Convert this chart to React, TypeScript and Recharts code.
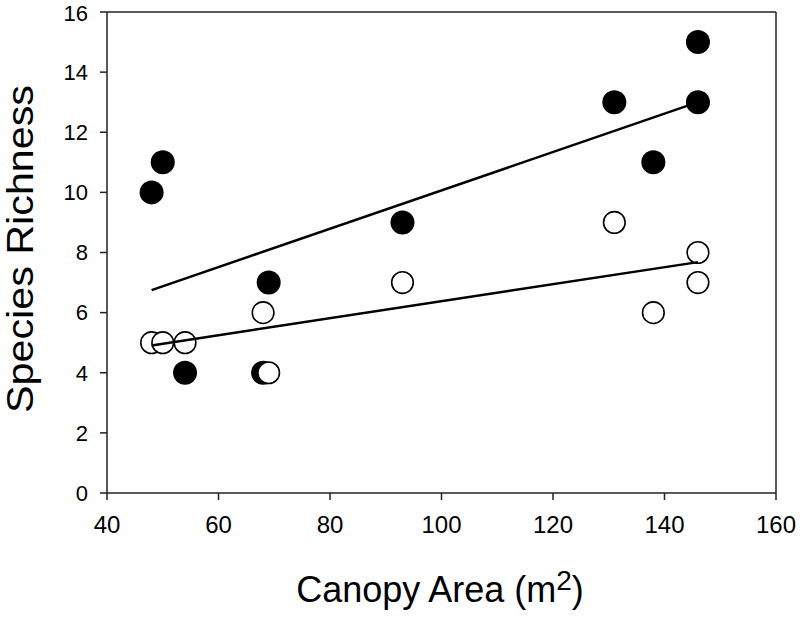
import React from "react";
import {
  ComposedChart,
  Scatter,
  XAxis,
  YAxis,
  ReferenceLine,
} from "recharts";

// canopy area (m2) and species richness
const filledX = [48, 50, 54, 68, 69, 93, 131, 138, 146, 146];
const filledY = [10, 11, 4, 4, 7, 9, 13, 11, 13, 15];
const openX = [48, 50, 54, 68, 69, 93, 131, 138, 146, 146];
const openY = [5, 5, 5, 6, 4, 7, 9, 6, 8, 7];

// regression line ends
const filledFitX = [48, 146];
const filledFitY = [6.75, 13.0];
const openFitX = [48, 146];
const openFitY = [4.91, 7.68];

const xTicks = [40, 60, 80, 100, 120, 140, 160];
const yTicks = [0, 2, 4, 6, 8, 10, 12, 14, 16];

const toPoints = (xs: number[], ys: number[]) =>
  xs.map((x, i) => ({ x, y: ys[i] }));

const filledData = toPoints(filledX, filledY);
const openData = toPoints(openX, openY);
const filledFit = toPoints(filledFitX, filledFitY);
const openFit = toPoints(openFitX, openFitY);

const FONT = "'Liberation Sans', Arial, sans-serif";

const FilledDot = (props: any) => (
  <circle cx={props.cx} cy={props.cy} r={12} fill="#000" />
);

const OpenDot = (props: any) => (
  <circle
    cx={props.cx}
    cy={props.cy}
    r={10.8}
    fill="#fff"
    stroke="#000"
    strokeWidth={1.6}
  />
);

const NoDot = () => <g />;

const XLabel = () => (
  <text x={440} y={602} textAnchor="middle" fontSize={36} fontFamily={FONT} fill="#000">
    Canopy Area (m
    <tspan fontSize={28} dy={-12}>2</tspan>
    <tspan dy={12}>)</tspan>
  </text>
);

const YLabel = () => (
  <text
    x={0}
    y={0}
    transform="translate(33, 249) rotate(-90)"
    textAnchor="middle"
    fontSize={36}
    fontFamily={FONT}
    fill="#000"
    textLength={328}
    lengthAdjust="spacingAndGlyphs"
  >
    Species Richness
  </text>
);

export default function App() {
  return (
    <div style={{ position: "absolute", left: 0, top: 0, background: "#fff" }}>
      <ComposedChart
        width={800}
        height={617}
        margin={{ top: 12, right: 24, bottom: 0, left: 0 }}
      >
        <XAxis
          type="number"
          dataKey="x"
          domain={[40, 160]}
          ticks={xTicks}
          allowDataOverflow
          height={124}
          tickSize={7}
          tickMargin={16}
          stroke="#222"
          strokeWidth={1.5}
          tick={{ fontSize: 24, fill: "#000", fontFamily: FONT }}
          label={{ content: XLabel }}
        />
        <YAxis
          type="number"
          dataKey="y"
          domain={[0, 16]}
          ticks={yTicks}
          allowDataOverflow
          width={107}
          tickSize={7}
          tickMargin={12}
          stroke="#222"
          strokeWidth={1.5}
          tick={{ fontSize: 22, fill: "#000", fontFamily: FONT }}
          label={{ content: YLabel }}
        />
        <ReferenceLine y={16} stroke="#222" strokeWidth={1.5} />
        <ReferenceLine x={160} stroke="#222" strokeWidth={1.5} />
        <Scatter data={filledData} shape={FilledDot} isAnimationActive={false} />
        <Scatter data={openData} shape={OpenDot} isAnimationActive={false} />
        <Scatter
          data={filledFit}
          shape={NoDot}
          line={{ stroke: "#000", strokeWidth: 2.5 }}
          isAnimationActive={false}
        />
        <Scatter
          data={openFit}
          shape={NoDot}
          line={{ stroke: "#000", strokeWidth: 2.5 }}
          isAnimationActive={false}
        />
      </ComposedChart>
    </div>
  );
}
